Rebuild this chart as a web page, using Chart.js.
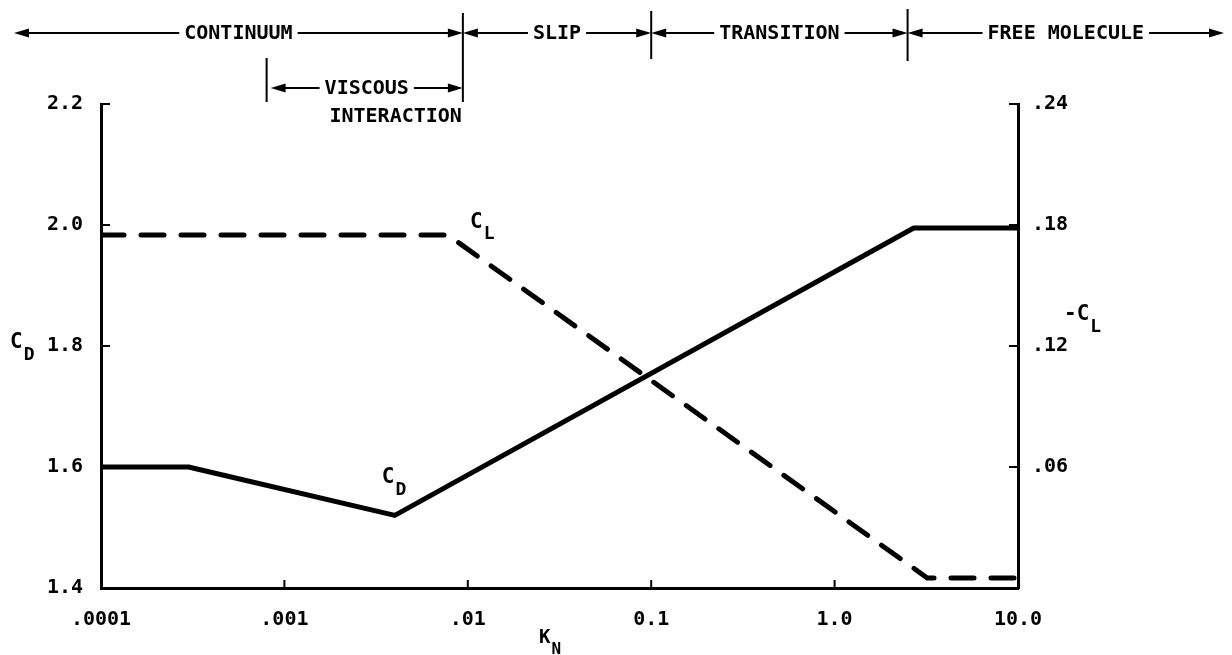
<!DOCTYPE html>
<html>
<head>
<meta charset="UTF-8">
<title>CD and -CL vs Knudsen number</title>
<script src="https://cdn.jsdelivr.net/npm/chart.js@4.4.1/dist/chart.umd.min.js"></script>
<style>
  html, body { margin: 0; padding: 0; background: #fff; }
  canvas { display: block; }
</style>
</head>
<body>
<canvas id="chart" width="1232" height="655"></canvas>
<script>
  // Knudsen number ticks
  const xTickValues = [0.0001, 0.001, 0.01, 0.1, 1, 10];
  const xTickLabels = [".0001", ".001", ".01", "0.1", "1.0", "10.0"];
  // C_D (left axis)
  const yTickValues = [1.4, 1.6, 1.8, 2.0, 2.2];
  const yTickLabels = ["1.4", "1.6", "1.8", "2.0", "2.2"];
  // -C_L (right axis)
  const y2TickValues = [0, 0.06, 0.12, 0.18, 0.24];
  const y2TickLabels = ["", ".06", ".12", ".18", ".24"];

  // solid curve, drag coefficient
  const knCD = [0.0001, 0.0003, 0.004, 2.7, 10];
  const cd = [1.6, 1.6, 1.52, 1.995, 1.995];
  // dashed curve, lift coefficient (-C_L)
  const knCL = [0.0001, 0.0078, 3.2, 10];
  const negCL = [0.175, 0.175, 0.005, 0.005];

  // flow regimes along the top
  const regimeNames = ["CONTINUUM", "SLIP", "TRANSITION", "FREE MOLECULE"];
  const regimeEdges = [0.0094, 0.1, 2.5]; // dividers between regimes
  const viscousStart = 0.0008;

  const FAMILY = '"DejaVu Sans Mono", monospace';
  const font = (size) => "bold " + size + "px " + FAMILY;

  function line(ctx, x1, y1, x2, y2) {
    ctx.beginPath();
    ctx.moveTo(x1, y1);
    ctx.lineTo(x2, y2);
    ctx.stroke();
  }

  function arrowHead(ctx, x, y, dir) {
    ctx.beginPath();
    ctx.moveTo(x, y);
    ctx.lineTo(x - dir * 15, y - 4.5);
    ctx.lineTo(x - dir * 15, y + 4.5);
    ctx.closePath();
    ctx.fill();
  }

  // double arrow with a label in the middle
  function span(ctx, x1, x2, y, text) {
    ctx.font = font(20);
    const w = ctx.measureText(text).width;
    const mid = (x1 + x2) / 2;
    ctx.lineWidth = 2;
    line(ctx, x1 + 4, y, mid - w / 2 - 5, y);
    line(ctx, mid + w / 2 + 5, y, x2 - 4, y);
    arrowHead(ctx, x1, y, -1);
    arrowHead(ctx, x2, y, 1);
    ctx.textAlign = "center";
    ctx.textBaseline = "middle";
    ctx.fillText(text, mid, y + 1);
  }

  // C with a subscript
  function subLabel(ctx, main, sub, x, y, size) {
    ctx.textAlign = "left";
    ctx.textBaseline = "middle";
    ctx.font = font(size);
    ctx.fillText(main, x, y);
    const w = ctx.measureText(main).width;
    ctx.font = font(size - 3);
    ctx.fillText(sub, x + w + 1, y + size * 0.6);
  }

  const extras = {
    id: "extras",
    afterDraw(chart) {
      const { ctx, chartArea: a } = chart;
      const { x, y, y2 } = chart.scales;
      ctx.save();
      ctx.fillStyle = "#000";
      ctx.strokeStyle = "#000";

      // inward tick marks
      ctx.lineWidth = 2;
      x.ticks.forEach(t => {
        const px = x.getPixelForValue(t.value);
        line(ctx, px, a.bottom, px, a.bottom - 8);
      });
      y.ticks.forEach(t => {
        const py = y.getPixelForValue(t.value);
        line(ctx, a.left, py, a.left + 9, py);
      });
      y2.ticks.forEach(t => {
        const py = y2.getPixelForValue(t.value);
        line(ctx, a.right, py, a.right - 9, py);
      });

      // axis titles
      subLabel(ctx, "C", "D", 10, 343, 21);
      subLabel(ctx, "-C", "L", 1064, 315, 21);
      subLabel(ctx, "K", "N", 539, 638, 19);

      // curve labels
      subLabel(ctx, "C", "D", x.getPixelForValue(knCD[2]) - 13, y.getPixelForValue(cd[2]) - 38, 21);
      subLabel(ctx, "C", "L", x.getPixelForValue(knCL[1]) + 22, y2.getPixelForValue(negCL[1]) - 13, 21);

      // regimes
      const rowY = 33;
      const edges = [14, ...regimeEdges.map(v => x.getPixelForValue(v)), chart.width - 8];
      ctx.lineWidth = 2;
      regimeNames.forEach((name, i) => {
        span(ctx, edges[i], edges[i + 1], rowY, name);
      });
      line(ctx, edges[1], rowY - 20, edges[1], 102);
      line(ctx, edges[2], rowY - 22, edges[2], rowY + 26);
      line(ctx, edges[3], rowY - 24, edges[3], rowY + 28);

      // viscous interaction bracket
      const vx = x.getPixelForValue(viscousStart);
      const vy = 88;
      line(ctx, vx, 58, vx, 102);
      span(ctx, vx + 4, edges[1], vy, "VISCOUS");
      ctx.font = font(20);
      ctx.textAlign = "right";
      ctx.textBaseline = "middle";
      ctx.fillText("INTERACTION", edges[1] - 1, 117);

      ctx.restore();
    }
  };

  const tickFont = { family: FAMILY, size: 20, weight: "bold" };
  const border = { display: true, color: "#000", width: 3 };

  new Chart(document.getElementById("chart"), {
    type: "line",
    data: {
      datasets: [
        {
          label: "C_D",
          data: knCD.map((k, i) => ({ x: k, y: cd[i] })),
          yAxisID: "y",
          borderColor: "#000",
          borderWidth: 5,
          pointRadius: 0,
          tension: 0,
          borderJoinStyle: "round"
        },
        {
          label: "-C_L",
          data: knCL.map((k, i) => ({ x: k, y: negCL[i] })),
          yAxisID: "y2",
          borderColor: "#000",
          borderWidth: 5,
          borderDash: [23, 17],
          borderCapStyle: "round",
          pointRadius: 0,
          tension: 0
        }
      ]
    },
    options: {
      responsive: false,
      animation: false,
      devicePixelRatio: 1,
      layout: { padding: { top: 104, left: 0, right: 0, bottom: 0 } },
      plugins: { legend: { display: false }, tooltip: { enabled: false } },
      scales: {
        x: {
          type: "logarithmic",
          min: 0.0001,
          max: 10,
          border: border,
          grid: { display: false, drawTicks: false },
          afterBuildTicks: s => { s.ticks = xTickValues.map(v => ({ value: v })); },
          afterFit: s => { s.height = 67; },
          ticks: {
            autoSkip: false,
            maxRotation: 0,
            padding: 20,
            color: "#000",
            font: tickFont,
            callback: (v, i) => xTickLabels[i]
          }
        },
        y: {
          position: "left",
          min: 1.4,
          max: 2.2,
          border: border,
          grid: { display: false, drawTicks: false },
          afterBuildTicks: s => { s.ticks = yTickValues.map(v => ({ value: v })); },
          afterFit: s => { s.width = 101; },
          ticks: { padding: 18, color: "#000", font: tickFont, callback: (v, i) => yTickLabels[i] }
        },
        y2: {
          position: "right",
          min: 0,
          max: 0.24,
          border: border,
          grid: { display: false, drawTicks: false },
          afterBuildTicks: s => { s.ticks = y2TickValues.map(v => ({ value: v })); },
          afterFit: s => { s.width = 214; },
          ticks: { padding: 14, color: "#000", font: tickFont, callback: (v, i) => y2TickLabels[i] }
        }
      }
    },
    plugins: [extras]
  });
</script>
</body>
</html>
